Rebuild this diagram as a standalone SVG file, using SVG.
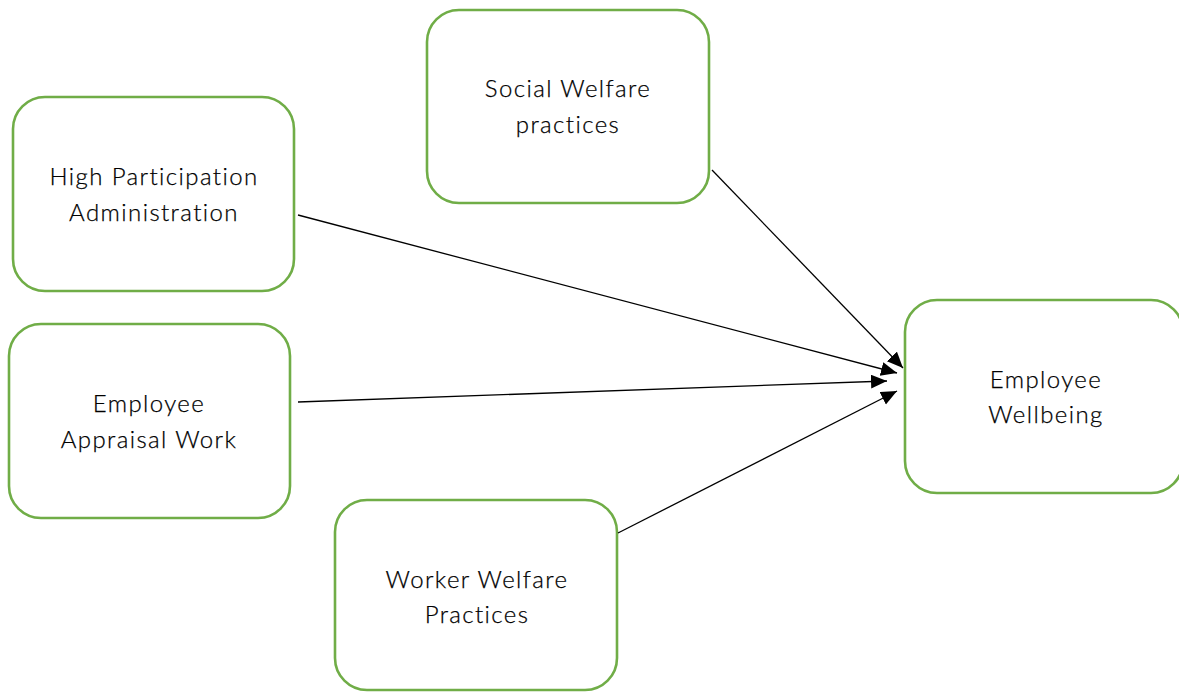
<svg xmlns="http://www.w3.org/2000/svg" width="1179" height="692" viewBox="0 0 1179 692">
  <style>
    .node rect { fill: #ffffff; stroke: #70ad47; stroke-width: 2.6; }
    .node text { font-family: Lato, "Open Sans", "Liberation Sans", sans-serif; font-size: 24px; font-weight: 300; letter-spacing: 1.4px; fill: #000000; stroke: #000000; stroke-width: 0.25; text-anchor: middle; }
    .edge { stroke: #000000; stroke-width: 1.3; fill: none; marker-end: url(#arrow); }
  </style>
  <defs>
    <marker id="arrow" markerUnits="userSpaceOnUse" markerWidth="18" markerHeight="16" refX="16" refY="7" orient="auto">
      <path d="M0,0 L16,7 L0,14 Z" fill="#000000"/>
    </marker>
  </defs>

  <rect width="1179" height="692" fill="#ffffff"/>

  <g id="node-social-welfare" class="node">
    <rect x="427" y="10" width="282" height="193" rx="32" ry="32"/>
    <text x="568" y="97">Social Welfare</text>
    <text x="568" y="133">practices</text>
  </g>

  <g id="node-high-participation" class="node">
    <rect x="13" y="97" width="281" height="194" rx="32" ry="32"/>
    <text x="154" y="185">High Participation</text>
    <text x="154" y="221">Administration</text>
  </g>

  <g id="node-employee-appraisal" class="node">
    <rect x="9" y="324" width="281" height="194" rx="32" ry="32"/>
    <text x="149" y="412">Employee</text>
    <text x="149" y="448">Appraisal Work</text>
  </g>

  <g id="node-worker-welfare" class="node">
    <rect x="335" y="500" width="282" height="190" rx="32" ry="32"/>
    <text x="477" y="588">Worker Welfare</text>
    <text x="477" y="623">Practices</text>
  </g>

  <g id="node-employee-wellbeing" class="node">
    <rect x="905" y="300" width="278" height="193" rx="32" ry="32"/>
    <text x="1046" y="388">Employee</text>
    <text x="1046" y="423">Wellbeing</text>
  </g>

  <g id="connectors">
    <line class="edge" x1="712" y1="170" x2="903" y2="368"/>
    <line class="edge" x1="298" y1="215" x2="897" y2="373"/>
    <line class="edge" x1="298" y1="402" x2="887" y2="381"/>
    <line class="edge" x1="618" y1="533" x2="897" y2="391"/>
  </g>
</svg>
